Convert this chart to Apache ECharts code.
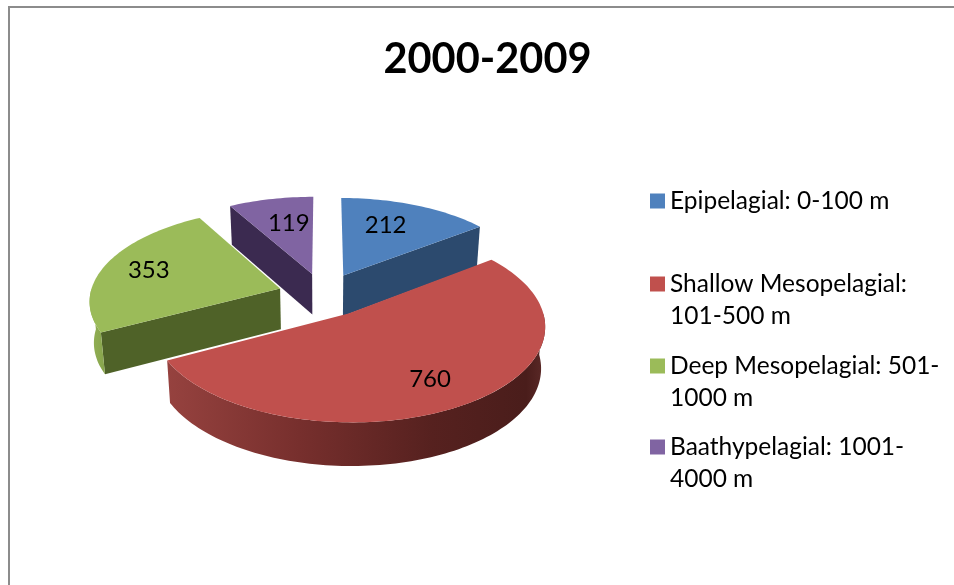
<!DOCTYPE html>
<html>
<head>
<meta charset="utf-8">
<style>html,body{margin:0;padding:0;background:#fff}#c{width:954px;height:585px}</style>
<script src="https://cdn.jsdelivr.net/npm/echarts@6/dist/echarts.min.js"></script>
</head>
<body>
<div id="c"></div>
<script>
const chartTitle = '2000-2009';
const categories = ['Epipelagial: 0-100 m', 'Shallow Mesopelagial:\n101-500 m', 'Deep Mesopelagial: 501-\n1000 m', 'Baathypelagial: 1001-\n4000 m'];
const values = [212, 760, 353, 119];

const topColors = ['#4f81bd', '#c0504d', '#9bbb59', '#8064a2'];
const wallColors = ['#2c4a6e', '#6b2a28', '#4f6228', '#3b2a50'];
const outerStops = [
  [[0, '#3a5f8c'], [1, '#2c4a6e']],
  [[0, '#96423f'], [0.35, '#772f2d'], [0.7, '#56211f'], [0.95, '#4a1d1b'], [1, '#5c2a28']],
  [[0, '#93b155'], [1, '#87a44c']],
  [[0, '#3b2a50'], [1, '#3b2a50']]
];
const labelFrac = [0.67, 0.74, 0.75, 0.65];
const labelSweep = [0.42, 0.51, 0.5, 0.58];

const CX = 323.5, CY = 294.5, R = 190, RT = 91, PERSP = 0.12, DEPTH = 41, EXPLODE = 0.24;
const total = values.reduce((a, b) => a + b, 0);
const project = (X, Y, Z) => {
  const w = 1 + PERSP * Y;
  return [
    CX + (R * X / w) * (1 - Z * 0.00045),
    CY - RT * Y / w + Z / (1 + 0.05 * Y)
  ];
};

const slices = [];
values.reduce((acc, v) => {
  const a0 = acc / total * Math.PI * 2, a1 = (acc + v) / total * Math.PI * 2;
  slices.push({ a0, a1, mid: (a0 + a1) / 2 });
  return acc + v;
}, 0);

function sliceRender(i) {
  return function () {
    const s = slices[i];
    const ox = EXPLODE * Math.sin(s.mid), oy = EXPLODE * Math.cos(s.mid);
    const pt = (a, r, z) => project(ox + r * Math.sin(a), oy + r * Math.cos(a), z);
    const arc = (from, to, z) => {
      const n = Math.max(2, Math.ceil((to - from) * 40)), out = [];
      for (let k = 0; k <= n; k++) out.push(pt(from + (to - from) * k / n, 1, z));
      return out;
    };
    const children = [];
    const radialWall = (a) => children.push({
      type: 'polygon',
      shape: { points: [pt(a, 0, 0), pt(a, 1, 0), pt(a, 1, DEPTH), pt(a, 0, DEPTH)] },
      style: { fill: wallColors[i] }, z2: 1
    });
    if (Math.sin(s.a0) < -1e-6) radialWall(s.a0);
    if (Math.sin(s.a1) > 1e-6) radialWall(s.a1);
    const f0 = Math.max(s.a0, Math.PI / 2), f1 = Math.min(s.a1, Math.PI * 1.5);
    if (f1 > f0) {
      const upper = arc(f0, f1, 0), lower = arc(f0, f1, DEPTH).reverse();
      children.push({
        type: 'polygon',
        shape: { points: upper.concat(lower) },
        style: {
          fill: new echarts.graphic.LinearGradient(0, 0, 1, 0,
            outerStops[i].map(st => ({ offset: st[0], color: st[1] })))
        },
        z2: 2
      });
    }
    children.push({
      type: 'polygon',
      shape: { points: [pt(0, 0, 0)].concat(arc(s.a0, s.a1, 0)) },
      style: { fill: topColors[i] }, z2: 3
    });
    const lp = pt(s.a0 + (s.a1 - s.a0) * labelSweep[i], labelFrac[i], 0);
    children.push({
      type: 'text', x: lp[0], y: lp[1],
      style: {
        text: String(values[i]), fill: '#000', font: '24px Lato',
        align: 'center', verticalAlign: 'middle'
      },
      z2: 10
    });
    return { type: 'group', children };
  };
}

const series = values.map((v, i) => ({
  type: 'custom',
  name: categories[i],
  coordinateSystem: 'none',
  silent: true,
  animation: false,
  z: Math.round(10 - 5 * Math.cos(slices[i].mid)),
  itemStyle: { color: topColors[i] },
  data: [v],
  renderItem: sliceRender(i)
}));

const legendTops = [185, 236, 318, 399];
const legend = categories.map((c, i) => ({
  data: [c],
  left: 650,
  top: legendTops[i],
  padding: 0,
  icon: 'rect',
  itemWidth: 15,
  itemHeight: 15,
  selectedMode: false,
  formatter: (name) => (name.indexOf('\n') >= 0 ? ' \n' + name : name),
  textStyle: { fontFamily: 'Lato', fontSize: 24.5, color: '#000', lineHeight: 32 }
}));

const chart = echarts.init(document.getElementById('c'), null, { renderer: 'canvas' });
chart.setOption({
  animation: false,
  backgroundColor: '#fff',
  title: {
    text: chartTitle,
    left: 487.5, top: 39, textAlign: 'center', padding: 0,
    textStyle: { fontFamily: 'Lato', fontWeight: 'bold', fontSize: 41.5, color: '#000' }
  },
  graphic: [{
    type: 'rect', silent: true, z: -1,
    shape: { x: 9, y: 7, width: 980, height: 620 },
    style: { fill: 'none', stroke: '#8c8c8c', lineWidth: 2 }
  }],
  legend,
  series
});
</script>
</body>
</html>
